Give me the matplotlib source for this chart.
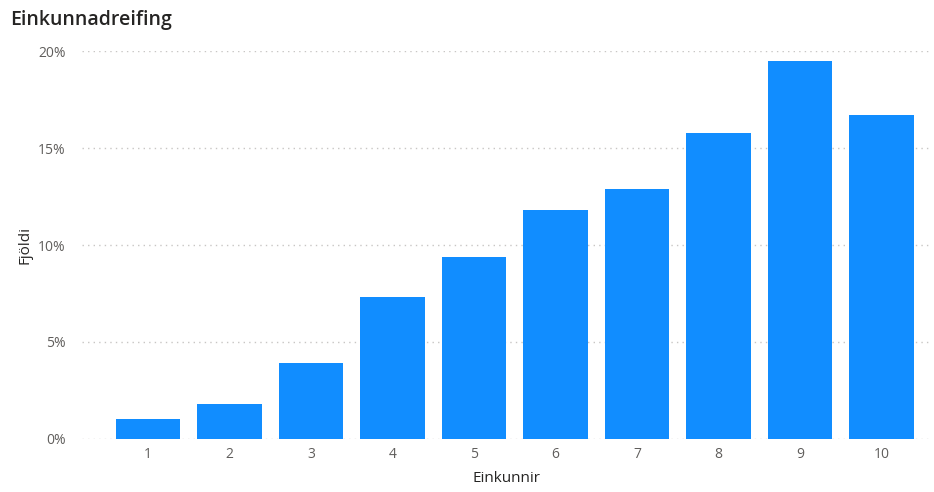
import matplotlib
matplotlib.use("Agg")
from matplotlib import pyplot as plt
from matplotlib.ticker import FuncFormatter

# data
grades = [1, 2, 3, 4, 5, 6, 7, 8, 9, 10]
share = [1.0, 1.8, 3.9, 7.3, 9.4, 11.8, 12.9, 15.8, 19.5, 16.7]  # percent
y_ticks = [0, 5, 10, 15, 20]

bar_color = '#118DFF'
text_color = '#252423'
tick_color = '#605E5C'

plt.rcParams['font.family'] = ['Open Sans', 'DejaVu Sans']

fig = plt.figure(figsize=(9.34, 4.92), dpi=100)
ax = fig.add_axes([0.088, 0.108, 0.908, 0.788])

ax.bar(grades, share, width=0.79, color=bar_color, zorder=3)

ax.set_xlim(0.19, 10.6)
ax.set_ylim(0, 20)
ax.set_xticks(grades)
ax.set_yticks(y_ticks)
ax.yaxis.set_major_formatter(FuncFormatter(lambda v, pos: '%d%%' % v))
ax.tick_params(axis='both', length=0, labelsize=10, labelcolor=tick_color)
ax.tick_params(axis='y', pad=12)
ax.tick_params(axis='x', pad=6)

ax.grid(axis='y', linestyle=(0, (1, 3)), color='#C8C6C4', linewidth=1, zorder=0)
for s in ax.spines.values():
    s.set_visible(False)

ax.set_xlabel('Einkunnir', fontsize=11, color=text_color, labelpad=6)
ax.set_ylabel('Fjöldi', fontsize=11, color=text_color, labelpad=4)

fig.text(0.011, 0.96, 'Einkunnadreifing', fontsize=14, color=text_color,
         va='center', ha='left', fontweight='semibold')

fig.savefig('out.png', dpi=100)
